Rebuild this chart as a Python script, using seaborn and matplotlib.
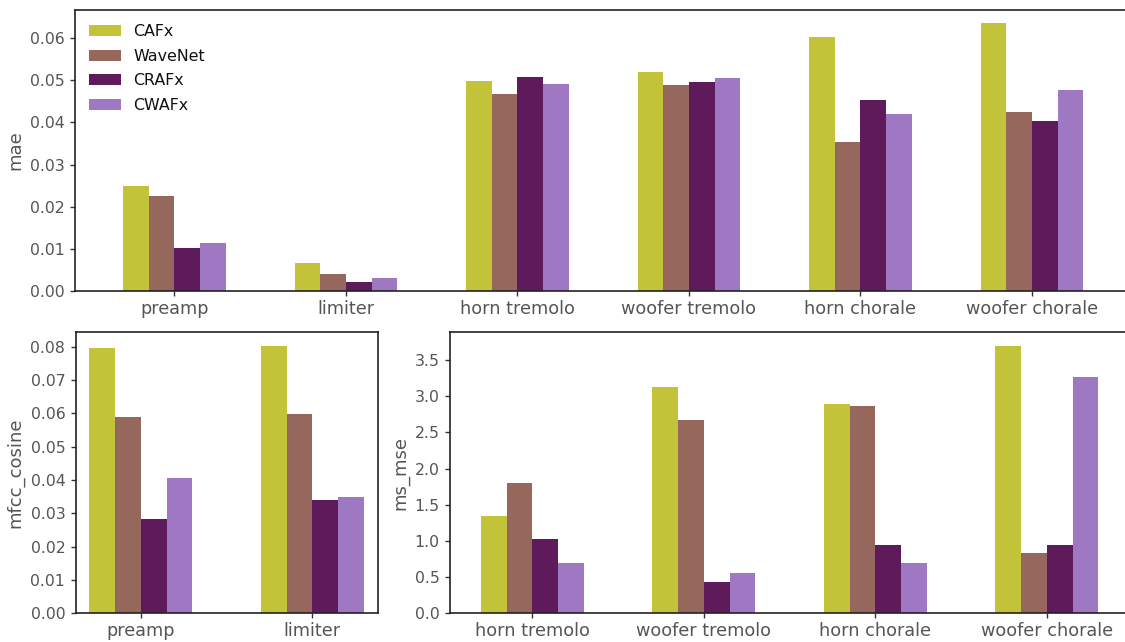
import matplotlib
matplotlib.use("Agg")
import matplotlib.pyplot as plt
import seaborn as sns
import pandas as pd

# Models compared and their colours
models = ["CAFx", "WaveNet", "CRAFx", "CWAFx"]
colors = ["#c3c339", "#96675c", "#5e1a5b", "#9f78c3"]

# Mean absolute error over all effects
mae_effects = ["preamp", "limiter", "horn tremolo", "woofer tremolo", "horn chorale", "woofer chorale"]
mae_cafx = [0.0249, 0.0066, 0.0498, 0.0519, 0.0602, 0.0635]
mae_wavenet = [0.0225, 0.0040, 0.0467, 0.0488, 0.0353, 0.0424]
mae_crafx = [0.0101, 0.0021, 0.0507, 0.0495, 0.0453, 0.0403]
mae_cwafx = [0.0113, 0.0031, 0.0491, 0.0505, 0.0419, 0.0476]

# MFCC cosine distance for the nonlinear effects
mfcc_effects = ["preamp", "limiter"]
mfcc_cafx = [0.0797, 0.0803]
mfcc_wavenet = [0.0588, 0.0597]
mfcc_crafx = [0.0282, 0.0339]
mfcc_cwafx = [0.0405, 0.0349]

# Modulation spectrum MSE for the modulation effects
ms_effects = ["horn tremolo", "woofer tremolo", "horn chorale", "woofer chorale"]
ms_cafx = [1.34, 3.12, 2.886, 3.697]
ms_wavenet = [1.796, 2.664, 2.858, 0.831]
ms_crafx = [1.024, 0.431, 0.941, 0.941]
ms_cwafx = [0.693, 0.555, 0.693, 3.26]


def long_frame(effects, series):
    rows = []
    for model, vals in zip(models, series):
        for eff, v in zip(effects, vals):
            rows.append({"effect": eff, "model": model, "value": v})
    return pd.DataFrame(rows)


sns.set_style("ticks")
text_grey = "#555555"
plt.rcParams.update({
    "font.family": ["DejaVu Sans"],
    "axes.edgecolor": "#222222",
    "axes.linewidth": 1.2,
    "xtick.color": "#333333",
    "ytick.color": "#333333",
    "xtick.labelcolor": text_grey,
    "ytick.labelcolor": text_grey,
    "axes.labelcolor": text_grey,
    "xtick.major.size": 3.5,
    "ytick.major.size": 3.5,
    "xtick.major.width": 1.0,
    "ytick.major.width": 1.0,
})

W, H = 1125, 642
fig = plt.figure(figsize=(W / 100, H / 100), dpi=100)
unit = 171.5  # pixels per category slot, shared by all panels


def add_axes(left_px, top_px, bottom_px, xlim):
    width_px = (xlim[1] - xlim[0]) * unit
    return fig.add_axes([left_px / W, (H - bottom_px) / H,
                         width_px / W, (bottom_px - top_px) / H]), xlim


def draw(ax, xlim, df, effects, ylabel, legend=False):
    sns.barplot(data=df, x="effect", y="value", hue="model", order=effects,
                hue_order=models, palette=colors, width=0.6, gap=0,
                saturation=1, linewidth=0, errorbar=None, ax=ax,
                legend=legend)
    ax.set_xlim(*xlim)
    ax.set_ylim(0, df["value"].max() * 1.05)
    ax.set_xlabel("")
    ax.set_ylabel(ylabel, fontsize=13)
    ax.tick_params(axis="x", labelsize=12.7, pad=3)
    ax.tick_params(axis="y", labelsize=11.3, pad=4)
    for s in ax.spines.values():
        s.set_visible(True)


ax1, xl1 = add_axes(75, 10, 291, (-0.58, 5.58))
draw(ax1, xl1, long_frame(mae_effects, [mae_cafx, mae_wavenet, mae_crafx, mae_cwafx]),
     mae_effects, "mae", legend=True)
ax1.set_yticks([0, 0.01, 0.02, 0.03, 0.04, 0.05, 0.06])
ax1.yaxis.set_major_formatter(matplotlib.ticker.FormatStrFormatter("%.2f"))
leg = ax1.legend(loc="upper left", frameon=False, fontsize=11.4,
                 labelspacing=0.6, handlelength=2.0, handleheight=0.7)
for t in leg.get_texts():
    t.set_color("#111111")

ax2, xl2 = add_axes(75.7, 332.3, 613.3, (-0.38, 1.38))
draw(ax2, xl2, long_frame(mfcc_effects, [mfcc_cafx, mfcc_wavenet, mfcc_crafx, mfcc_cwafx]),
     mfcc_effects, "mfcc_cosine")
ax2.set_yticks([0, 0.01, 0.02, 0.03, 0.04, 0.05, 0.06, 0.07, 0.08])
ax2.yaxis.set_major_formatter(matplotlib.ticker.FormatStrFormatter("%.2f"))

ax3, xl3 = add_axes(450, 332.3, 613.3, (-0.48, 3.58))
draw(ax3, xl3, long_frame(ms_effects, [ms_cafx, ms_wavenet, ms_crafx, ms_cwafx]),
     ms_effects, "ms_mse")
ax3.set_yticks([0, 0.5, 1.0, 1.5, 2.0, 2.5, 3.0, 3.5])
ax3.yaxis.set_major_formatter(matplotlib.ticker.FormatStrFormatter("%.1f"))

fig.savefig("out.png", dpi=100)
